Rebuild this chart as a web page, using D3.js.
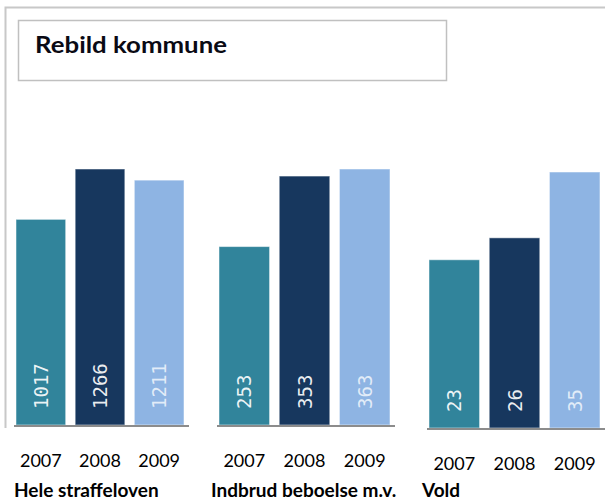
<!DOCTYPE html>
<html>
<head>
<meta charset="utf-8">
<script src="https://cdn.jsdelivr.net/npm/d3@7"></script>
<style>
  body { margin: 0; background: #fff; }
  svg { display: block; }
  .yr { font-family: Lato, "Open Sans", sans-serif; font-size: 18px; fill: #000; }
  .cat { font-family: Lato, "Open Sans", sans-serif; font-size: 19px; font-weight: bold; fill: #000; }
  .val { font-family: "DejaVu Sans Mono", monospace; font-size: 19px; fill: #fff; }
</style>
</head>
<body>
<div id="chart"></div>
<script>
var years = ["2007", "2008", "2009"];
var categories = ["Hele straffeloven", "Indbrud beboelse m.v.", "Vold"];
var straffeloven = [1017, 1266, 1211];
var indbrud = [253, 353, 363];
var vold = [23, 26, 35];
var colors = ["#31849B", "#17375E", "#8EB4E3"];

var W = 605, H = 504;

var svg = d3.select("#chart").append("svg")
    .attr("width", W)
    .attr("height", H);

// outer frame (cut off at the right)
svg.append("path")
    .attr("d", "M5.5,428 V7.5 H605")
    .attr("fill", "none")
    .attr("stroke", "#c8c8c8")
    .attr("stroke-width", 2);

// title box
svg.append("rect")
    .attr("x", 18.5).attr("y", 20.5)
    .attr("width", 428).attr("height", 60)
    .attr("fill", "#fff")
    .attr("stroke", "#c0c0c0")
    .attr("stroke-width", 1.5);

svg.append("text")
    .attr("x", 35).attr("y", 53)
    .attr("textLength", 192)
    .attr("lengthAdjust", "spacingAndGlyphs")
    .style("font-family", "Lato, 'Open Sans', sans-serif")
    .style("font-size", "22px")
    .style("font-weight", "bold")
    .style("fill", "#0a0a14")
    .text("Rebild kommune");

// one panel per category, each with its own scale
var panels = [
    {cat: categories[0], data: straffeloven, x0: 16, x1: 184, base: 425, labelX: 14, yrY: 467},
    {cat: categories[1], data: indbrud, x0: 219, x1: 390, base: 425, labelX: 211, yrY: 467},
    {cat: categories[2], data: vold, x0: 429, x1: 600, base: 428, labelX: 422, yrY: 470}
];

panels.forEach(function (p) {
    var x = d3.scaleBand()
        .domain(years)
        .range([p.x0, p.x1])
        .paddingInner(0.16)
        .paddingOuter(0);

    var y = d3.scaleLinear()
        .domain([0, d3.max(p.data)])
        .range([p.base, p.base - 256]);

    var rows = years.map(function (yr, i) {
        return {year: yr, value: p.data[i], color: colors[i]};
    });

    var g = svg.append("g");

    g.selectAll(".bar")
        .data(rows)
        .enter().append("rect")
        .attr("class", "bar")
        .attr("x", function (d) { return x(d.year); })
        .attr("width", x.bandwidth())
        .attr("y", function (d) { return y(d.value); })
        .attr("height", function (d) { return p.base - y(d.value); })
        .attr("fill", function (d) { return d.color; })
        .attr("stroke", "rgba(255,255,255,0.5)")
        .attr("stroke-width", 1);

    // baseline
    g.append("line")
        .attr("x1", p.x0 - 2).attr("x2", Math.min(p.x1 + 5, W))
        .attr("y1", p.base + 1).attr("y2", p.base + 1)
        .attr("stroke", "#8c8c8c")
        .attr("stroke-width", 2);

    // values inside bars, rotated
    g.selectAll(".val")
        .data(rows)
        .enter().append("text")
        .attr("class", "val")
        .attr("transform", function (d) {
            return "translate(" + (x(d.year) + x.bandwidth() / 2 + 7) + "," + (p.base - 16) + ") rotate(-90)";
        })
        .style("fill-opacity", function (d, i) { return i == 2 ? 0.75 : 0.92; })
        .text(function (d) { return d.value; });

    // year labels
    g.selectAll(".yr")
        .data(rows)
        .enter().append("text")
        .attr("class", "yr")
        .attr("x", function (d) { return x(d.year) + x.bandwidth() / 2; })
        .attr("y", p.yrY)
        .attr("text-anchor", "middle")
        .text(function (d) { return d.year; });

    g.append("text")
        .attr("class", "cat")
        .attr("x", p.labelX)
        .attr("y", 497)
        .text(p.cat);
});
</script>
</body>
</html>
